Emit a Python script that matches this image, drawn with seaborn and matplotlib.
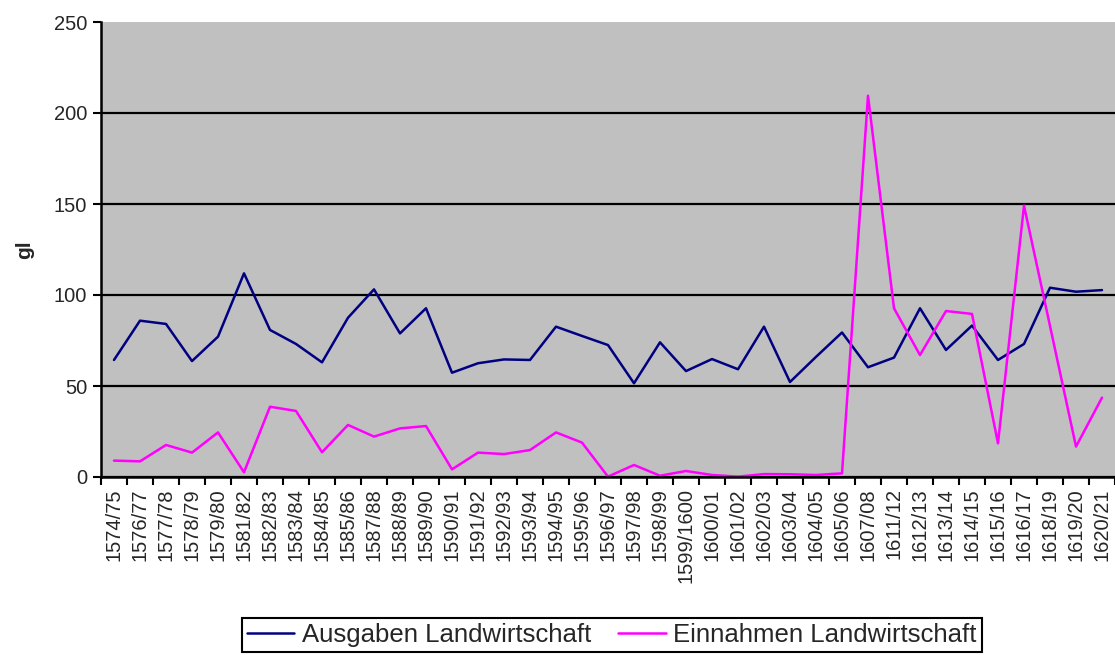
import matplotlib
matplotlib.use("Agg")
import matplotlib.pyplot as plt
from matplotlib.ticker import FixedLocator, NullFormatter
import seaborn as sns
import numpy as np
import pandas as pd

# Rechnungsjahre
jahre = ["1574/75", "1576/77", "1577/78", "1578/79", "1579/80", "1581/82",
         "1582/83", "1583/84", "1584/85", "1585/86", "1587/88", "1588/89",
         "1589/90", "1590/91", "1591/92", "1592/93", "1593/94", "1594/95",
         "1595/96", "1596/97", "1597/98", "1598/99", "1599/1600", "1600/01",
         "1601/02", "1602/03", "1603/04", "1604/05", "1605/06", "1607/08",
         "1611/12", "1612/13", "1613/14", "1614/15", "1615/16", "1616/17",
         "1618/19", "1619/20", "1620/21"]

ausgaben = [64.3, 85.9, 84.1, 63.7, 77.1, 111.9, 80.8, 73.1, 63.0, 87.5,
            103.1, 78.9, 92.7, 57.3, 62.5, 64.6, 64.3, 82.6, 77.5, 72.5,
            51.5, 74.0, 58.2, 64.8, 59.2, 82.6, 52.2, 66.0, 79.4, 60.3,
            65.6, 92.7, 69.8, 83.2, 64.3, 73.1, 104.0, 101.8, 102.7]

einnahmen = [9.0, 8.6, 17.6, 13.4, 24.5, 2.6, 38.6, 36.3, 13.6, 28.6,
             22.2, 26.7, 28.0, 4.2, 13.4, 12.6, 14.8, 24.5, 18.9, 0.2,
             6.6, 0.7, 3.3, 1.1, 0.2, 1.6, 1.5, 1.1, 2.0, 209.5,
             92.7, 67.0, 91.2, 89.6, 18.5, 149.1, 83.0, 16.7, 43.6]

serien = ["Ausgaben Landwirtschaft", "Einnahmen Landwirtschaft"]
farben = {"Ausgaben Landwirtschaft": "#000080", "Einnahmen Landwirtschaft": "#FF00FF"}

df = pd.DataFrame({"pos": np.arange(len(jahre)), "Jahr": jahre,
                   serien[0]: ausgaben, serien[1]: einnahmen})
long = df.melt(id_vars=["pos", "Jahr"], value_vars=serien,
               var_name="Serie", value_name="gl")

sns.set_style("white")
plt.rcParams["font.family"] = ["Liberation Sans", "DejaVu Sans"]

fig = plt.figure(figsize=(11.15, 6.55), dpi=100)
ax = fig.add_axes([101 / 1115, 178 / 655, 1014 / 1115, 455 / 655])
ax.set_facecolor("#C0C0C0")

sns.lineplot(data=long, x="pos", y="gl", hue="Serie", hue_order=serien,
             palette=farben, linewidth=1.8, sort=False, legend=False, ax=ax)

ax.set_xlim(-0.5, len(jahre) - 0.5)
ax.set_ylim(0, 250)
ax.set_yticks(np.arange(0, 251, 50))
ax.tick_params(axis="y", labelsize=14.5, length=6, width=1.5, color="black",
               direction="out", left=True, pad=4)

# Kategorienbeschriftung mittig, Striche an den Grenzen
ax.set_xticks(np.arange(len(jahre)))
ax.set_xticklabels(jahre, rotation=90, fontsize=14.5)
ax.tick_params(axis="x", which="major", length=0, pad=8)
ax.xaxis.set_minor_locator(FixedLocator(np.arange(len(jahre) + 1) - 0.5))
ax.xaxis.set_minor_formatter(NullFormatter())
ax.tick_params(axis="x", which="minor", length=6, width=1.5, color="black",
               direction="out", bottom=True)

ax.yaxis.grid(True, color="black", linewidth=1.6)
ax.xaxis.grid(False)
for loc, gl in zip(ax.get_yticks(), ax.yaxis.get_gridlines()):
    if loc >= 250:
        gl.set_visible(False)

for s in ["top", "right"]:
    ax.spines[s].set_visible(False)
for s in ["left", "bottom"]:
    ax.spines[s].set_color("black")
    ax.spines[s].set_linewidth(1.8)

ax.set_xlabel("")
ax.set_ylabel("gl", fontsize=15, fontweight="bold", labelpad=14)

handles = ax.get_lines()[:2]
leg = fig.legend(handles, serien, loc="upper center",
                 bbox_to_anchor=(0.5486, 1 - 618 / 655), ncol=2,
                 fontsize=18.5, frameon=True, fancybox=False, framealpha=1,
                 edgecolor="black", handlelength=1.85, handletextpad=0.3,
                 columnspacing=1.05, borderpad=0.2, borderaxespad=0)
leg.get_frame().set_linewidth(1.5)

fig.savefig("out.png", dpi=100)
